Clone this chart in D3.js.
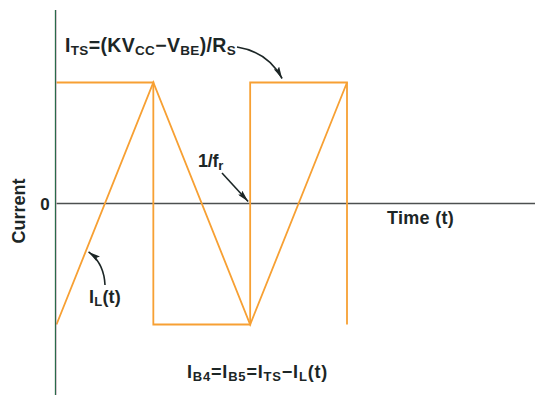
<!DOCTYPE html>
<html><head><meta charset="utf-8">
<script src="https://cdn.jsdelivr.net/npm/d3@7"></script>
<style>html,body{margin:0;padding:0;background:#fff;}svg{display:block;}</style>
</head><body>
<script>
// ---- data ----
const squareT = [0, 1, 1, 2, 2, 3, 3];
const squareV = [1, 1, -1, -1, 1, 1, -1];
const triT = [0, 1, 2, 3];
const triV = [-1, 1, -1, 1];
const yTicks = [0];
const xLabel = "Time (t)";
const yLabel = "Current";

const W = 535, H = 395;
const orange = "#f7a033";
const ink = "#1c2626";
const FONT = "'Liberation Sans', Arial, sans-serif";

const svg = d3.select("body").append("svg").attr("width", W).attr("height", H);
const defs = svg.append("defs");
defs.append("marker").attr("id", "ah").attr("viewBox", "0 0 12 6")
  .attr("refX", 12).attr("refY", 3).attr("markerWidth", 12).attr("markerHeight", 6)
  .attr("markerUnits", "userSpaceOnUse").attr("orient", "auto")
  .append("path").attr("d", "M0,0 L12,3 L0,6 L2,3 Z").attr("fill", ink);

const x = d3.scaleLinear().domain([0, 3]).range([56.5, 347]);
const y = d3.scaleLinear().domain([-1, 1]).range([324.5, 82.5]);

// zero axis
svg.append("line").attr("x1", x(0)).attr("x2", W).attr("y1", y(0)).attr("y2", y(0))
  .attr("stroke", "#4d5050").attr("stroke-width", 1.4);

const line = d3.line().x(d => x(d[0])).y(d => y(d[1]));
svg.append("path").datum(squareT.map((t, i) => [t, squareV[i]]))
  .attr("d", line).attr("fill", "none").attr("stroke", orange).attr("stroke-width", 1.8)
  .attr("stroke-linejoin", "miter");
svg.append("path").datum(triT.map((t, i) => [t, triV[i]]))
  .attr("d", line).attr("fill", "none").attr("stroke", orange).attr("stroke-width", 1.8)
  .attr("stroke-linejoin", "miter");

// vertical axis (green with faint pink fringe)
svg.append("line").attr("x1", 56.4).attr("x2", 56.4).attr("y1", 10).attr("y2", H)
  .attr("stroke", "#e27ab8").attr("stroke-width", 0.7).attr("opacity", 0.5);
svg.append("line").attr("x1", 55.5).attr("x2", 55.5).attr("y1", 10).attr("y2", H)
  .attr("stroke", "#2a6a4a").attr("stroke-width", 1.3);

// y tick label
svg.selectAll(".yt").data(yTicks).enter().append("text")
  .attr("x", 45).attr("y", d => y(d) + 6).attr("text-anchor", "middle")
  .attr("font-family", FONT).attr("font-weight", "bold").attr("font-size", 17).attr("fill", ink).text(d => d);

// rich text helper
function rich(x0, yb, parts, size, sub, width) {
  const t = svg.append("text").attr("x", x0).attr("y", yb)
    .attr("font-family", FONT).attr("font-weight", "bold").attr("font-size", size).attr("fill", ink);
  let shifted = false;
  parts.forEach(p => {
    const isSub = Array.isArray(p);
    const s = t.append("tspan").text(isSub ? p[0] : p);
    if (isSub) { s.attr("font-size", sub); if (!shifted) { s.attr("dy", 3); shifted = true; } }
    else if (shifted) { s.attr("dy", -3); shifted = false; }
  });
  if (width) {
    const n = parts.reduce((a, p) => a + (Array.isArray(p) ? p[0] : p).length, 0);
    const w = t.node().getComputedTextLength();
    t.attr("letter-spacing", (width - w) / n);
  }
  return t;
}

rich(65, 52, ["I", ["TS"], "=(KV", ["CC"], "\u2212V", ["BE"], ")/R", ["S"]], 19.5, 13.5, 171);
rich(198, 167, ["1/f", ["r"]], 18, 13, 25);
rich(89, 303, ["I", ["L"], "(t)"], 18, 13, 32);
rich(187, 378, ["I", ["B4"], "=I", ["B5"], "=I", ["TS"], "\u2212I", ["L"], "(t)"], 18, 13, 141);
rich(387, 224, [xLabel], 18, 13, 67);

svg.append("text").attr("transform", "translate(25,211) rotate(-90)")
  .attr("text-anchor", "middle").attr("font-family", FONT).attr("font-weight", "bold")
  .attr("font-size", 18).attr("fill", ink).text(yLabel);

// annotation arrows
const arrows = [
  `M237,47 Q268,52 ${x(2.33)},${y(1) - 4}`,
  `M222,173 L${x(2) - 2},${y(0) - 2}`,
  `M105,285 Q104,263 ${x(0.3) + 3},${y(-0.4)}`
];
svg.selectAll(".arr").data(arrows).enter().append("path")
  .attr("d", d => d).attr("fill", "none").attr("stroke", ink).attr("stroke-width", 1.6)
  .attr("marker-end", "url(#ah)");
</script>
</body></html>
